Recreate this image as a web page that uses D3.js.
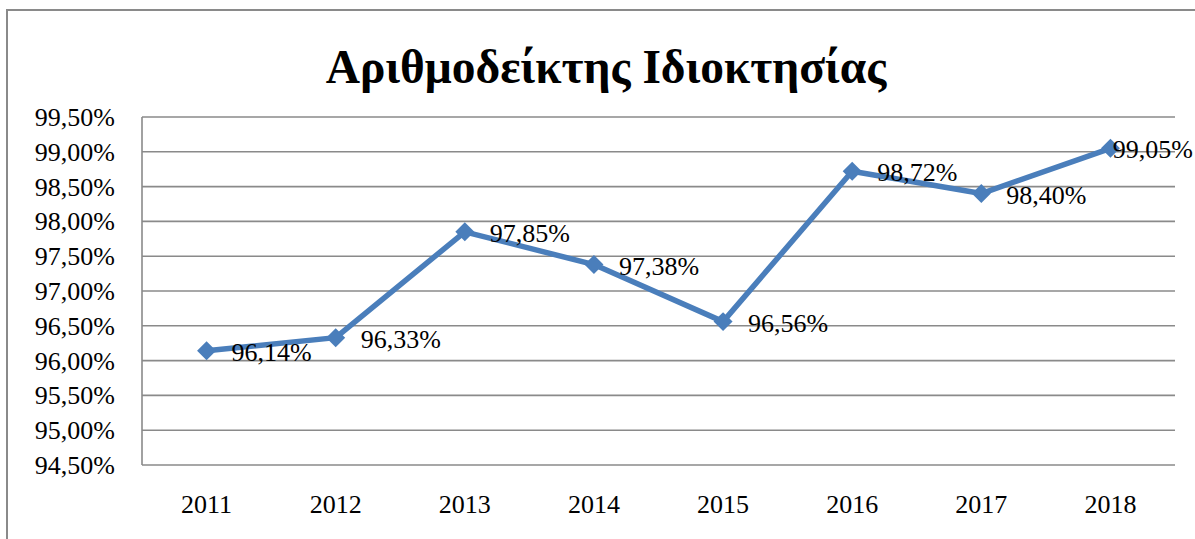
<!DOCTYPE html>
<html>
<head>
<meta charset="utf-8">
<script src="https://cdn.jsdelivr.net/npm/d3@7"></script>
<style>
  body { margin: 0; background: #fff; }
  svg text { font-family: "Liberation Serif", "Times New Roman", serif; }
</style>
</head>
<body>
<div class="container"></div>
<script>
const title = "Αριθμοδείκτης Ιδιοκτησίας";
const years = ["2011", "2012", "2013", "2014", "2015", "2016", "2017", "2018"];
const ratios = [96.14, 96.33, 97.85, 97.38, 96.56, 98.72, 98.40, 99.05];
const yTicks = [94.5, 95.0, 95.5, 96.0, 96.5, 97.0, 97.5, 98.0, 98.5, 99.0, 99.5];

const w = 1195;
const h = 539;

/* plot area */
const plotLeft = 142, plotRight = 1175, plotTop = 117, plotBottom = 465;

const lineBlue = "#4a7ebb";
const gridGrey = "#8a8a8a";
const serif = "'Liberation Serif', 'Times New Roman', serif";

// comma as decimal separator
const fmt = (v) => v.toFixed(2).replace(".", ",") + "%";

const svg = d3.select(".container")
              .append("svg")
              .attr("width", w)
              .attr("height", h);

/* chart border (runs past the right and bottom edges) */
svg.append("rect")
   .attr("x", 7)
   .attr("y", 10)
   .attr("width", w + 10)
   .attr("height", h + 10)
   .attr("fill", "#fff")
   .attr("stroke", gridGrey)
   .attr("stroke-width", 2);

svg.append("text")
   .attr("x", 606)
   .attr("y", 83)
   .attr("text-anchor", "middle")
   .attr("font-family", serif)
   .style("font-size", "47.5px")
   .style("font-weight", "bold")
   .text(title);

const xScale = d3.scaleBand()
                 .domain(years)
                 .range([plotLeft, plotRight]);

const yScale = d3.scaleLinear()
                 .domain([94.5, 99.5])
                 .range([plotBottom, plotTop]);

/* gridlines */
svg.append("g")
   .selectAll("line")
   .data(yTicks)
   .enter()
   .append("line")
   .attr("x1", plotLeft)
   .attr("x2", plotRight)
   .attr("y1", (d) => yScale(d))
   .attr("y2", (d) => yScale(d))
   .attr("stroke", gridGrey)
   .attr("stroke-width", 1.6);

/* y axis line */
svg.append("line")
   .attr("x1", plotLeft).attr("x2", plotLeft)
   .attr("y1", plotTop).attr("y2", plotBottom)
   .attr("stroke", gridGrey)
   .attr("stroke-width", 1.6);

/* y axis labels */
const yAxis = d3.axisLeft(yScale)
                .tickValues(yTicks)
                .tickFormat(fmt)
                .tickSize(0)
                .tickPadding(27);

svg.append("g")
   .attr("transform", `translate(${plotLeft}, 0)`)
   .call(yAxis)
   .attr("font-family", serif)
   .call((g) => g.select(".domain").remove())
   .selectAll("text")
   .attr("fill", "#000")
   .attr("dy", "0.33em")
   .style("font-size", "26px");

/* x axis labels */
const xAxis = d3.axisBottom(xScale)
                .tickSize(0)
                .tickPadding(30);

svg.append("g")
   .attr("transform", `translate(0, ${plotBottom})`)
   .call(xAxis)
   .attr("font-family", serif)
   .call((g) => g.select(".domain").remove())
   .selectAll("text")
   .attr("fill", "#000")
   .style("font-size", "26px");

/* the line */
const cx = (i) => xScale(years[i]) + xScale.bandwidth() / 2;

const line = d3.line()
               .x((d, i) => cx(i))
               .y((d) => yScale(d));

svg.append("path")
   .datum(ratios)
   .attr("d", line)
   .attr("fill", "none")
   .attr("stroke", lineBlue)
   .attr("stroke-width", 5.5)
   .attr("stroke-linejoin", "round");

/* diamond markers */
svg.append("g")
   .selectAll("path")
   .data(ratios)
   .enter()
   .append("path")
   .attr("d", d3.symbol().type(d3.symbolDiamond2).size(230))
   .attr("transform", (d, i) => `translate(${cx(i)}, ${yScale(d)})`)
   .attr("fill", lineBlue);

/* data labels, to the right of each point, kept inside the picture */
svg.append("g")
   .attr("font-family", serif)
   .selectAll("text")
   .data(ratios)
   .enter()
   .append("text")
   .attr("y", (d) => yScale(d) + 10)
   .style("font-size", "26px")
   .text(fmt)
   .attr("x", function (d, i) {
       const tw = this.getComputedTextLength();
       return Math.min(cx(i) + 25, w - tw - 2);
   });
</script>
</body>
</html>
